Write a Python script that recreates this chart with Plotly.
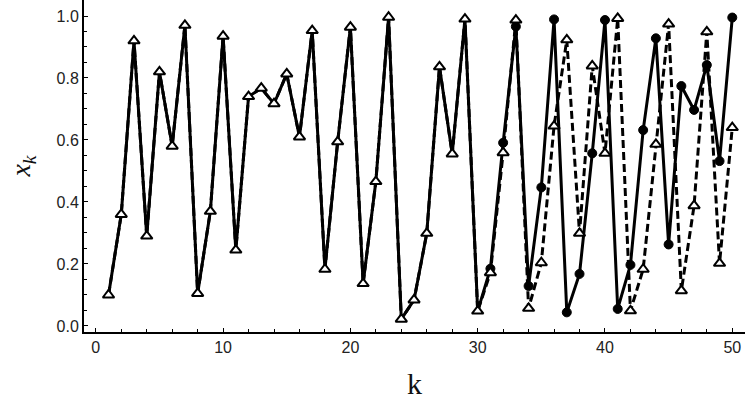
import numpy as np
import plotly.graph_objects as go

# Iterates shared by both trajectories (k = 1..30)
x_common = [0.10, 0.36, 0.92, 0.29, 0.82, 0.58, 0.97, 0.105, 0.37, 0.935,
            0.245, 0.74, 0.767, 0.717, 0.813, 0.61, 0.953, 0.183, 0.594, 0.964,
            0.137, 0.466, 0.996, 0.022, 0.084, 0.299, 0.836, 0.555, 0.99, 0.048]
# Diverging parts (k = 31..50)
tail_solid = [0.185, 0.591, 0.966, 0.129, 0.447, 0.989, 0.044, 0.168, 0.557, 0.987,
              0.055, 0.197, 0.632, 0.928, 0.263, 0.774, 0.697, 0.842, 0.532, 0.995]
tail_dashed = [0.172, 0.559, 0.987, 0.057, 0.204, 0.645, 0.923, 0.299, 0.839, 0.557,
               0.992, 0.049, 0.183, 0.586, 0.974, 0.114, 0.388, 0.949, 0.202, 0.640]

x_solid = x_common + tail_solid
x_dashed = x_common + tail_dashed
k = list(range(1, len(x_solid) + 1))

x_ticks = [0, 10, 20, 30, 40, 50]
y_ticks = [0.0, 0.2, 0.4, 0.6, 0.8, 1.0]
y_tick_text = ["0.0", "0.2", "0.4", "0.6", "0.8", "1.0"]

n_common = len(x_common)

fig = go.Figure()
# solid trajectory line
fig.add_trace(go.Scatter(
    x=k, y=x_solid, mode="lines",
    line=dict(color="black", width=3), showlegend=False))
# solid trajectory markers where it diverges
fig.add_trace(go.Scatter(
    x=k[n_common:], y=x_solid[n_common:], mode="markers",
    marker=dict(symbol="circle", size=9, color="black", opacity=1,
                line=dict(width=1, color="black")),
    showlegend=False))
fig.add_trace(go.Scatter(
    x=k, y=x_dashed, mode="lines+markers",
    line=dict(color="black", width=3, dash="8px,4px"),
    marker=dict(symbol="triangle-up", size=10, color="white", opacity=1,
                line=dict(color="black", width=2)),
    showlegend=False))

tick_font = dict(family="Liberation Sans, Arial, sans-serif", size=16, color="#222")
fig.update_layout(
    width=747, height=410,
    margin=dict(l=84, r=2, t=0, b=78),
    paper_bgcolor="white", plot_bgcolor="white",
    xaxis=dict(range=[-0.927, 51.0], tickvals=x_ticks, ticks="inside", ticklen=4,
               tickwidth=1, tickcolor="black", automargin=False,
               minor=dict(dtick=2, tick0=0, ticks="inside", ticklen=3, tickcolor="black"),
               showgrid=False, zeroline=False, showline=True, linecolor="black", linewidth=2,
               tickfont=tick_font,
               title=dict(text="k", font=dict(family="Liberation Serif, Times New Roman, serif",
                                              size=30, color="#111"), standoff=18)),
    yaxis=dict(range=[-0.0194, 1.0516], tickvals=y_ticks, ticktext=y_tick_text,
               ticks="inside", ticklen=4, tickwidth=1, tickcolor="black", automargin=False,
               minor=dict(dtick=0.05, tick0=0, ticks="inside", ticklen=3, tickcolor="black"),
               showgrid=False, zeroline=False, showline=True, linecolor="black", linewidth=2,
               tickfont=tick_font,
               title=dict(text="<i>x</i><sub><i>k</i></sub>",
                          font=dict(family="Liberation Serif, Times New Roman, serif",
                                    size=28, color="#111"), standoff=18)),
)

fig.write_html("out.html", config={"displayModeBar": False},
               post_script="document.body.style.margin='0';")
